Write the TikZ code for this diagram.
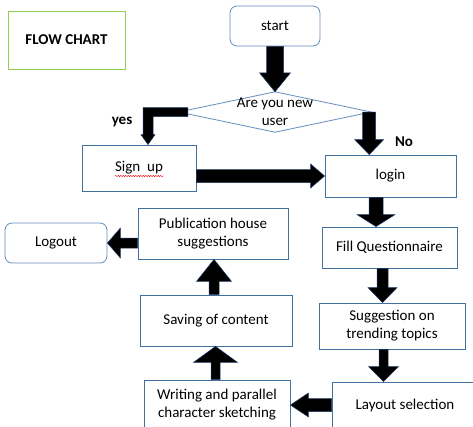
\documentclass[tikz,border=0pt]{standalone}
\usepackage{fontspec}
\setmainfont{Carlito}
\usetikzlibrary{calc,decorations.pathmorphing}
\definecolor{boxblue}{RGB}{65,113,156}
\definecolor{lightblue}{RGB}{100,140,190}
\definecolor{titlegreen}{RGB}{146,208,80}
\definecolor{arrowedge}{RGB}{31,56,100}
\newcommand\blockarrow[5]{%
  \path ($(#2)!#5!(#1)$) coordinate (bA);
  \filldraw[barrow] ($(#1)!#3!90:(#2)$) -- ($(bA)!#3!90:(#2)$) -- ($(bA)!#4!90:(#2)$) -- (#2)
    -- ($(bA)!#4!-90:(#2)$) -- ($(bA)!#3!-90:(#2)$) -- ($(#1)!#3!-90:(#2)$) -- cycle;}
\begin{document}
\begin{tikzpicture}[x=1pt,y=-1pt,font=\fontsize{15}{18}\selectfont,
  box/.style={draw=boxblue,line width=0.8pt,align=center,inner sep=0pt,fill=white},
  rbox/.style={box,draw=lightblue,rounded corners=7pt},
  barrow/.style={fill=black,draw=arrowedge,line width=0.5pt},
  lbl/.style={font=\fontsize{15}{18}\selectfont\bfseries}]
\useasboundingbox (0,0) rectangle (473,426);
% nodes
\node[box,draw=titlegreen,minimum width=117pt,minimum height=58pt,font=\fontsize{15}{18}\selectfont\bfseries] (title) at (66.5,40) {FLOW CHART};
\node[rbox,minimum width=90pt,minimum height=40pt] (start) at (275,26) {start};
\node[minimum width=192pt,minimum height=40pt,inner sep=0pt] (q) at (275,112) {};
\draw[lightblue,line width=0.8pt] (q.north) -- (q.east) -- (q.south) -- (q.west) -- cycle;
\node[align=center,inner sep=0pt] (qtext) at (q.center) {Are you new\\user};
\node[box,minimum width=114pt,minimum height=46pt] (signup) at (139,168) {Sign\ \ up};
\draw[red,line width=0.4pt,decorate,decoration={snake,amplitude=0.7pt,segment length=2.5pt}]
  ($(signup.center)+(-24,8)$) -- ($(signup.center)+(24,8)$);
\node[box,minimum width=131pt,minimum height=42pt] (login) at (390.5,176) {login};
\node[box,minimum width=135pt,minimum height=41pt] (fill) at (389.5,247.5) {Fill Questionnaire};
\node[box,minimum width=146pt,minimum height=46pt] (sugg) at (392,326) {Suggestion on\\trending topics};
\node[box,minimum width=146pt,minimum height=46pt] (layout) at (405,405) {Layout selection};
\node[box,minimum width=146pt,minimum height=50pt] (writing) at (217,405) {Writing and parallel\\character sketching};
\node[box,minimum width=152pt,minimum height=51pt] (saving) at (216,320.5) {Saving of content};
\node[box,minimum width=150pt,minimum height=51pt] (pub) at (213,233.5) {Publication house\\suggestions};
\node[rbox,minimum width=102pt,minimum height=40pt] (logout) at (56,243) {Logout};
\node[lbl] (yes) at (122,122) {yes};
\node[lbl] (no) at (404,142) {No};
% arrows
\blockarrow{start.south}{q.north}{8.5pt}{15.5pt}{19pt}
% yes elbow
\coordinate (ys) at ($(q.west)+(9,0)$);
\coordinate (yt) at ($(signup.north)+(9,0)$);
\filldraw[barrow] let \p1=(ys), \p2=(yt) in
  (\x1,\y1+4.5pt) -- (\x2-5pt,\y1+4.5pt) -- (\x2-5pt,\y2+10pt) -- (\x2-7pt,\y2+10pt) -- (\x2,\y2)
  -- (\x2+7pt,\y2+10pt) -- (\x2+5pt,\y2+10pt) -- (\x2+5pt,\y1-4.5pt) -- (\x1,\y1-4.5pt) -- cycle;
% No
\coordinate (n1) at ($(q.east)+(-2,0)$);
\coordinate (n2) at (n1 |- login.north);
\blockarrow{n1}{n2}{6.5pt}{14.5pt}{15pt}
% signup -> login
\coordinate (s1) at (signup.east |- login.west);
\blockarrow{s1}{login.west}{6.5pt}{12pt}{14pt}
% login -> fill
\coordinate (l1) at ($(login.south)+(-14.5,0)$);
\coordinate (l2) at (l1 |- fill.north);
\blockarrow{l1}{l2}{7pt}{19pt}{12pt}
% fill -> sugg
\coordinate (f1) at ($(fill.south)+(-7,0)$);
\coordinate (f2) at (f1 |- sugg.north);
\blockarrow{f1}{f2}{5.5pt}{14.5pt}{15pt}
% sugg -> layout
\coordinate (g1) at ($(sugg.south)+(-8.5,0)$);
\coordinate (g2) at (g1 |- layout.north);
\blockarrow{g1}{g2}{4.5pt}{15pt}{15pt}
% layout -> writing
\blockarrow{layout.west}{writing.east}{6.5pt}{12pt}{18pt}
% writing -> saving
\coordinate (w1) at ($(writing.north)+(-1.5,0)$);
\coordinate (w2) at (w1 |- saving.south);
\blockarrow{w1}{w2}{4.5pt}{22pt}{16pt}
% saving -> pub
\coordinate (v1) at ($(saving.north)+(-2,0)$);
\coordinate (v2) at (v1 |- pub.south);
\blockarrow{v1}{v2}{5pt}{17.5pt}{22pt}
% pub -> logout
\coordinate (p1) at (pub.west |- logout.east);
\blockarrow{p1}{logout.east}{5pt}{15pt}{13pt}
\end{tikzpicture}
\end{document}
